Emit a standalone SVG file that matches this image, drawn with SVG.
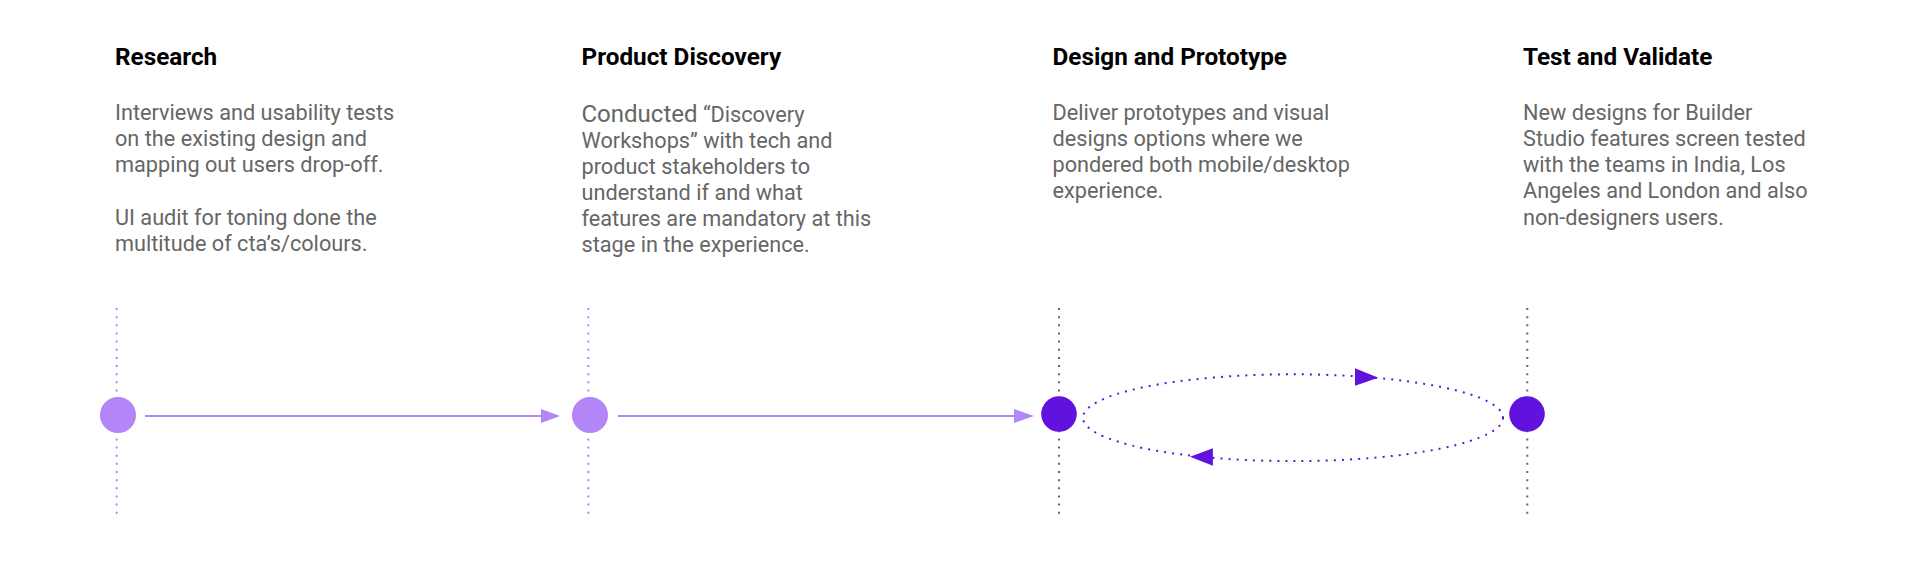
<svg xmlns="http://www.w3.org/2000/svg" width="1922" height="582" viewBox="0 0 1922 582">
<style>
.h{font-family:Roboto,"Liberation Sans",sans-serif;font-weight:700;font-size:24.3px;fill:#000}
.b{font-family:Roboto,"Liberation Sans",sans-serif;font-size:21.7px;fill:#666}
.big{font-size:24px}
.vl{stroke:#B286F6;stroke-width:2;stroke-dasharray:2 6.15;fill:none}
.vg{stroke:#666;stroke-width:2;stroke-dasharray:2 6.15;fill:none}
.light{fill:#B286F6}
.dark{fill:#6112DE}
.arr{stroke:#B286F6;stroke-width:2.2;fill:none}
.loop{stroke:#6112DE;stroke-width:2;stroke-dasharray:2 6.1;fill:none}
</style>
<rect width="1922" height="582" fill="#fff"/>
<g id="research">
<text class="h" x="115" y="64.5">Research</text>
<text class="b" x="115" y="119.5">Interviews and usability tests</text>
<text class="b" x="115" y="145.8">on the existing design and</text>
<text class="b" x="115" y="172.1">mapping out users drop-off.</text>
<text class="b" x="115" y="224.7">UI audit for toning done the</text>
<text class="b" x="115" y="251">multitude of cta’s/colours.</text>
<line class="vl" x1="116.7" y1="308" x2="116.7" y2="514"/>
<circle class="light" cx="118" cy="415" r="18"/>
</g>
<g id="product-discovery">
<text class="h" x="581.5" y="64.5">Product Discovery</text>
<text class="b" x="581.5" y="121.7"><tspan class="big">Conducted</tspan> “Discovery</text>
<text class="b" x="581.5" y="147.5">Workshops” with tech and</text>
<text class="b" x="581.5" y="173.5">product stakeholders to</text>
<text class="b" x="581.5" y="199.5">understand if and what</text>
<text class="b" x="581.5" y="225.5">features are mandatory at this</text>
<text class="b" x="581.5" y="251.5">stage in the experience.</text>
<line class="vl" x1="588.3" y1="308" x2="588.3" y2="514"/>
<circle class="light" cx="590" cy="415" r="18"/>
</g>
<g id="design-prototype">
<text class="h" x="1052.5" y="64.5">Design and Prototype</text>
<text class="b" x="1052.5" y="119.5">Deliver prototypes and visual</text>
<text class="b" x="1052.5" y="145.8">designs options where we</text>
<text class="b" x="1052.5" y="172.1">pondered both mobile/desktop</text>
<text class="b" x="1052.5" y="198.4">experience.</text>
<line class="vg" x1="1059" y1="308" x2="1059" y2="514"/>
<circle class="dark" cx="1059" cy="414" r="17.8"/>
</g>
<g id="test-validate">
<text class="h" x="1523" y="64.5">Test and Validate</text>
<text class="b" x="1523" y="119.5">New designs for Builder</text>
<text class="b" x="1523" y="145.8">Studio features screen tested</text>
<text class="b" x="1523" y="172.1">with the teams in India, Los</text>
<text class="b" x="1523" y="198.4">Angeles and London and also</text>
<text class="b" x="1523" y="224.7">non-designers users.</text>
<line class="vg" x1="1527.3" y1="308" x2="1527.3" y2="514"/>
<circle class="dark" cx="1527" cy="414" r="17.8"/>
</g>
<g id="connectors">
<line class="arr" x1="145" y1="416" x2="543" y2="416"/>
<polygon class="light" points="541,409 560,416 541,423"/>
<line class="arr" x1="618" y1="416" x2="1016" y2="416"/>
<polygon class="light" points="1014,409 1034,416 1014,423"/>
<ellipse class="loop" cx="1293" cy="417.7" rx="210" ry="43.4"/>
<polygon class="dark" points="1355,368.3 1378.3,377.8 1355,385.7"/>
<polygon class="dark" points="1212.9,448.3 1190,456.7 1212.9,465.7"/>
</g>
</svg>
